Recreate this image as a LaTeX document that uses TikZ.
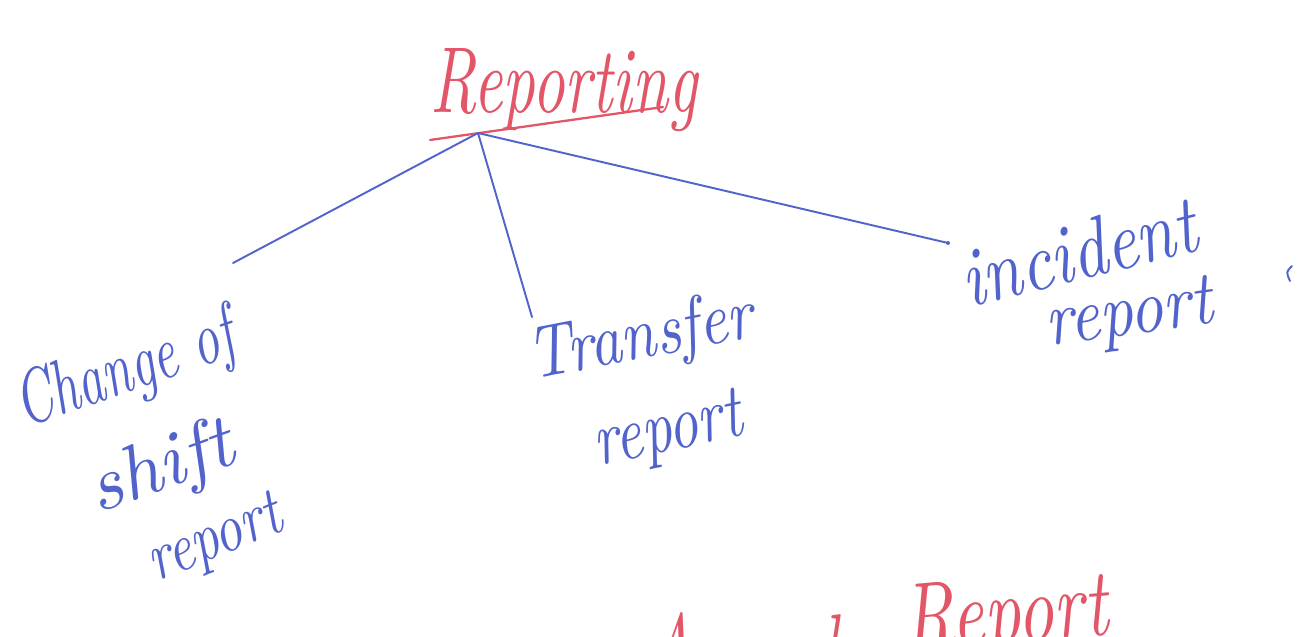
\documentclass[tikz,border=0pt]{standalone}
\usepackage{graphicx}
\newlength\pxu
\setlength\pxu{0.02cm}
% handwritten-style word: width and height (above baseline) in pixel units
\newcommand\hw[3]{\resizebox{#1\pxu}{#2\pxu}{\itshape #3}}
\definecolor{redpen}{RGB}{226,86,104}
\definecolor{bluepen}{RGB}{82,100,204}
\tikzset{
  word/.style={inner sep=0pt, anchor=base west},
  redword/.style={word, text=redpen},
  blueword/.style={word, text=bluepen},
  redline/.style={draw=redpen, line width=1.3pt, line cap=round},
  blueline/.style={draw=bluepen, line width=1.1pt, line cap=round},
}
\begin{document}
\begin{tikzpicture}[x=0.02cm, y=-0.02cm]
  \fill[white] (0,0) rectangle (1314,636);
  \clip (0,0) rectangle (1314,636);

  % title
  \node[redword] (rep) at (430,112) {\hw{267}{64}{Reporting}};
  \coordinate (ulA) at (430,140);
  \coordinate (ulB) at (663,107);
  \draw[redline] (ulA) -- (ulB);

  % branch labels
  \node[blueword, rotate=19] (chg) at (24,428) {\hw{228}{54}{Change of}};
  \node[blueword, rotate=20] (shf) at (97,514) {\hw{150}{54}{shift}};
  \node[blueword, rotate=22] (rp1) at (156,582) {\hw{140}{43}{report}};

  \node[blueword, rotate=11] (trf) at (532,380) {\hw{228}{52}{Transfer}};
  \node[blueword, rotate=12] (rp2) at (598,466) {\hw{150}{48}{report}};

  \node[blueword, rotate=14] (inc) at (968,308) {\hw{240}{58}{incident}};
  \node[blueword, rotate=8] (rp3) at (1048,346) {\hw{168}{48}{report}};

  % connectors from the hub under the title
  \coordinate (hub) at (478,133);
  \coordinate (endL) at (233,263);
  \coordinate (endM) at (532,317);
  \coordinate (endR) at (948,243);
  \draw[blueline] (hub) -- (endL);
  \draw[blueline] (hub) -- (endM);
  \draw[blueline] (hub) -- (endR);
  \fill[bluepen] (endR) circle (2);

  % stray pen mark at the right
  \coordinate (tkA) at (1292,266);
  \coordinate (tkB) at (1290,281);
  \draw[blueline] (tkA) .. controls (1286,272) .. (tkB);

  % second heading, running off the lower edge
  \node[redword] (ann) at (648,682) {\hw{190}{70}{Annual}};
  \node[redword, rotate=5] (rpt) at (905,652) {\hw{205}{66}{Report}};
\end{tikzpicture}
\end{document}
